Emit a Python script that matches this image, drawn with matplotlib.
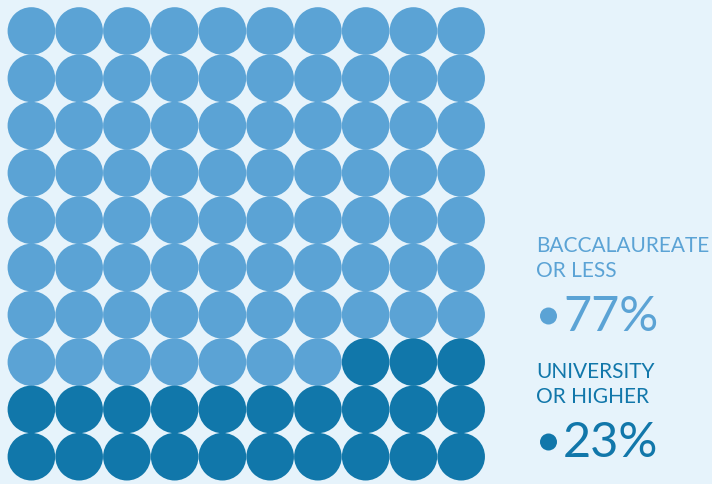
import matplotlib
matplotlib.use("Agg")
import matplotlib.pyplot as plt
from matplotlib.patches import Circle

# share of each education level, in percent (100 dots)
groups = ["BACCALAUREATE\nOR LESS", "UNIVERSITY\nOR HIGHER"]
shares = [77, 23]
colors = ["#5BA3D5", "#1177AA"]
bg = "#E6F3FB"

n_rows, n_cols = 10, 10

fig = plt.figure(figsize=(7.12, 4.84), dpi=100, facecolor=bg)
ax = fig.add_axes([0, 0, 1, 1])
ax.set_facecolor(bg)
ax.set_xlim(0, 712)
ax.set_ylim(484, 0)
ax.axis("off")

# fill the grid from the top-left, the second group takes the last cells
cell_x, cell_y = 47.75, 47.3
x0, y0 = 31.4, 31.0
k = 0
for gi, n in enumerate(shares):
    for _ in range(n):
        r, c = divmod(k, n_cols)
        ax.add_patch(Circle((x0 + c * cell_x, y0 + r * cell_y), 23.8,
                            color=colors[gi], lw=0))
        k += 1

# legend on the right
label_y = [236, 362]
for gi, (name, val) in enumerate(zip(groups, shares)):
    ty = label_y[gi]
    ax.text(536, ty, name, color=colors[gi], fontsize=15, family="Lato",
            va="top", ha="left", linespacing=1.3)
    ax.add_patch(Circle((548.5, ty + 80), 8.5, color=colors[gi], lw=0))
    ax.text(563, ty + 95, f"{val}%", color=colors[gi], fontsize=35,
            family="Lato", fontweight="normal", va="baseline", ha="left")

fig.savefig("out.png", dpi=100, facecolor=bg)
